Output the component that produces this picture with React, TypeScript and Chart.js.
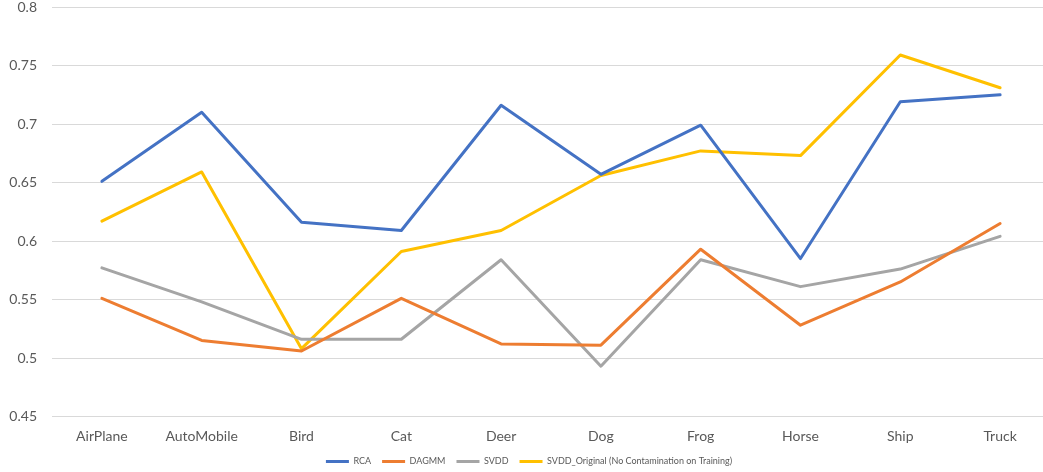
import React, { useEffect, useRef } from "react";
import { Chart, registerables } from "chart.js";

Chart.register(...registerables);

// CIFAR-10 classes on the x axis
const categories = ["AirPlane", "AutoMobile", "Bird", "Cat", "Deer", "Dog", "Frog", "Horse", "Ship", "Truck"];

// Scores per method
const rcaValues = [0.651, 0.710, 0.616, 0.609, 0.716, 0.657, 0.699, 0.585, 0.719, 0.725];
const dagmmValues = [0.551, 0.515, 0.506, 0.551, 0.512, 0.511, 0.593, 0.528, 0.565, 0.615];
const svddValues = [0.577, 0.548, 0.516, 0.516, 0.584, 0.493, 0.584, 0.561, 0.576, 0.604];
const svddOriginalValues = [0.617, 0.659, 0.508, 0.591, 0.609, 0.656, 0.677, 0.673, 0.759, 0.731];

const seriesNames = ["RCA", "DAGMM", "SVDD", "SVDD_Original (No Contamination on Training)"];
const seriesColors = ["#4472C4", "#ED7D31", "#A5A5A5", "#FFC000"];

// y axis range and step
const yMin = 0.45;
const yMax = 0.8;
const yStep = 0.05;

const FONT = "Lato, 'Noto Sans', sans-serif";
const TEXT = "#595959";

export default function App() {
  const canvasRef = useRef<HTMLCanvasElement | null>(null);

  useEffect(() => {
    const canvas = canvasRef.current;
    if (!canvas) return;
    const values = [rcaValues, dagmmValues, svddValues, svddOriginalValues];
    const chart = new Chart(canvas, {
      type: "line",
      data: {
        labels: categories,
        datasets: values.map((v, i) => ({
          label: seriesNames[i],
          data: v,
          borderColor: seriesColors[i],
          backgroundColor: seriesColors[i],
          borderWidth: 3,
          pointRadius: 0,
          pointHoverRadius: 0,
          fill: false,
          tension: 0,
          borderJoinStyle: "round" as const,
          borderCapStyle: "round" as const,
        })),
      },
      options: {
        responsive: false,
        animation: false,
        devicePixelRatio: 1,
        layout: { padding: { left: 8, right: 14, top: 7, bottom: -4 } },
        plugins: {
          tooltip: { enabled: false },
          legend: {
            position: "bottom",
            labels: {
              usePointStyle: true,
              pointStyle: "line",
              pointStyleWidth: 23,
              boxHeight: 3,
              padding: 11,
              color: TEXT,
              font: { family: FONT, size: 9 },
            },
          },
        },
        scales: {
          x: {
            offset: true,
            grid: { display: false, drawTicks: false },
            border: { display: false },
            afterFit: (scale: any) => {
              scale.height = 29.5;
            },
            ticks: {
              color: TEXT,
              font: { family: FONT, size: 14 },
              padding: 12,
              maxRotation: 0,
            },
          },
          y: {
            min: yMin,
            max: yMax,
            grid: { color: "#D9D9D9", lineWidth: 1, drawTicks: false },
            border: { display: false },
            afterFit: (scale: any) => {
              scale.width = 44;
              scale.paddingTop = 0;
              scale.paddingBottom = 0;
            },
            ticks: {
              stepSize: yStep,
              color: TEXT,
              font: { family: FONT, size: 14 },
              padding: 15,
              callback: (v: any) => String(Math.round(Number(v) * 100) / 100),
            },
          },
        },
      },
    });
    return () => chart.destroy();
  }, []);

  return (
    <div style={{ position: "absolute", left: 0, top: 0, width: 1043, height: 472, overflow: "hidden", background: "#fff" }}>
      <canvas ref={canvasRef} width={1064} height={472} style={{ display: "block" }} />
    </div>
  );
}
